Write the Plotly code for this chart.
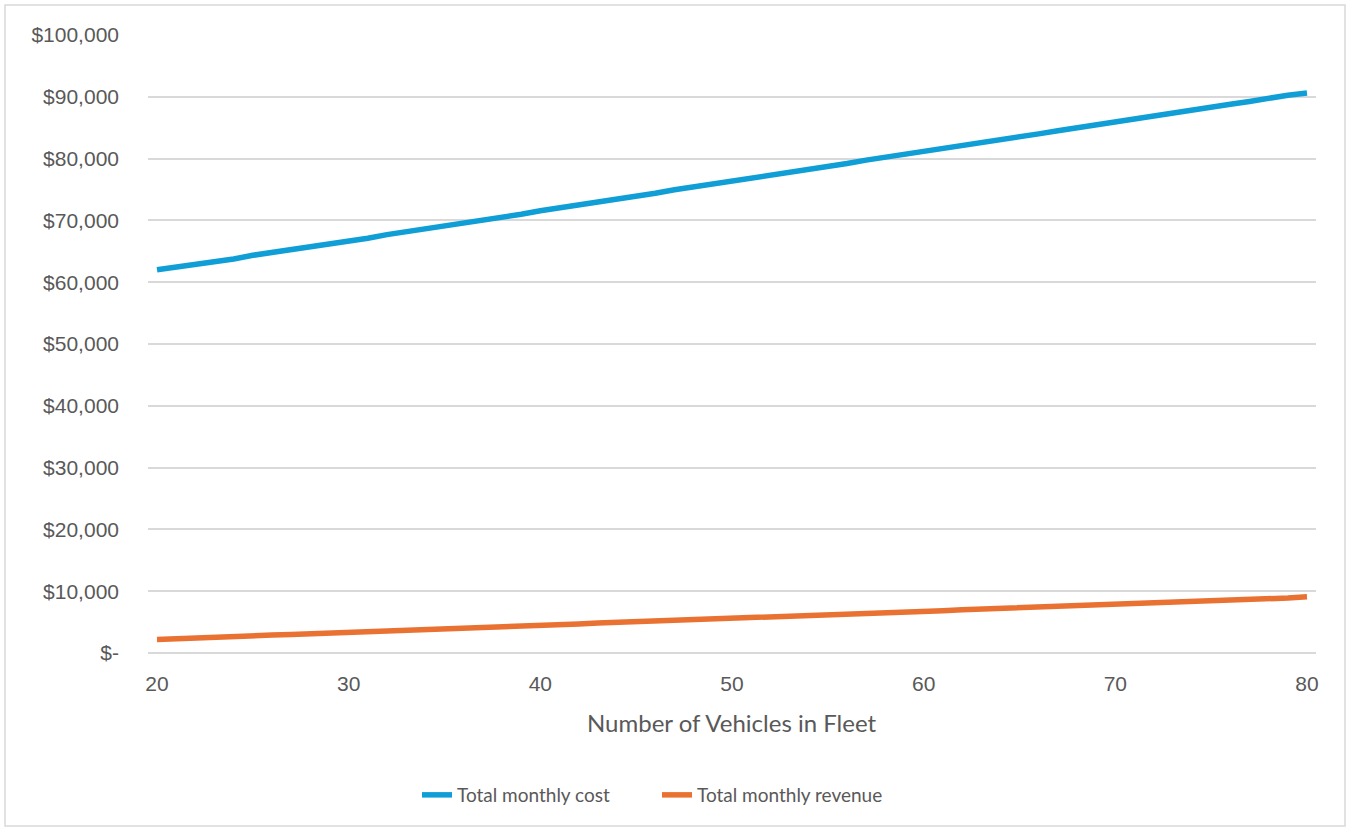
import plotly.graph_objects as go

# Fleet size (number of vehicles)
vehicles = list(range(20, 81))

# Total monthly cost ($) for each fleet size
total_monthly_cost = [
    62000, 62400, 62950, 63350, 63750, 64350, 64800, 65200, 65650, 66250,
    66700, 67100, 67700, 68150, 68600, 69050, 69650, 70100, 70550, 71000,
    71550, 72000, 72450, 73000, 73450, 73900, 74400, 74950, 75400, 75850,
    76400, 76850, 77300, 77800, 78300, 78750, 79200, 79750, 80200, 80650,
    81150, 81650, 82100, 82550, 83100, 83550, 84000, 84500, 85000, 85450,
    85900, 86450, 86900, 87350, 87850, 88350, 88800, 89250, 89800, 90250,
    90600,
]

# Total monthly revenue ($) for each fleet size
total_monthly_revenue = [
    2200, 2350, 2400, 2550, 2650, 2800, 2900, 3000, 3100, 3250,
    3350, 3450, 3600, 3700, 3800, 3900, 4050, 4150, 4250, 4350,
    4500, 4600, 4700, 4850, 4950, 5050, 5150, 5300, 5400, 5500,
    5600, 5750, 5850, 5950, 6100, 6200, 6300, 6400, 6550, 6650,
    6750, 6850, 7000, 7100, 7200, 7300, 7450, 7550, 7650, 7800,
    7900, 8000, 8100, 8250, 8350, 8450, 8550, 8700, 8800, 8900,
    9100,
]

x_ticks = [20, 30, 40, 50, 60, 70, 80]
y_ticks = [0, 10000, 20000, 30000, 40000, 50000, 60000, 70000, 80000, 90000, 100000]
y_tick_text = ["$-" if v == 0 else f"${v:,}" for v in y_ticks]

W, H = 1350, 831
L, R, T, B = 148, 34, 35, 178
pw, ph = W - L - R, H - T - B

TICK_FONT = dict(family="Liberation Sans, Arial, sans-serif", size=21, color="#595959")
TITLE_FONT = dict(family="Lato, sans-serif", size=24, color="#595959")
LEGEND_FONT = dict(family="Lato, sans-serif", size=19, color="#595959")
GRID = "#d9d9d9"

fig = go.Figure()
fig.add_trace(go.Scatter(
    x=vehicles, y=total_monthly_cost, mode="lines", name="Total monthly cost",
    line=dict(color="#0F9ED5", width=5.5),
))
fig.add_trace(go.Scatter(
    x=vehicles, y=total_monthly_revenue, mode="lines", name="Total monthly revenue",
    line=dict(color="#E97132", width=5.5),
))


def px_x(p):
    return (p - L) / pw


def px_y(p):
    return (H - B - p) / ph


# outer chart border
fig.add_shape(type="rect", xref="paper", yref="paper",
              x0=px_x(5), x1=px_x(1345), y0=px_y(826), y1=px_y(5),
              line=dict(color=GRID, width=1.5), fillcolor="rgba(0,0,0,0)", layer="below")

fig.add_annotation(text="Number of Vehicles in Fleet", xref="paper", yref="paper",
                   x=px_x(731), y=px_y(722), xanchor="center", yanchor="middle",
                   showarrow=False, font=TITLE_FONT)

fig.update_layout(
    width=W, height=H,
    margin=dict(l=L, r=R, t=T, b=B, pad=0),
    paper_bgcolor="white", plot_bgcolor="white",
    showlegend=True,
    legend=dict(orientation="h", x=px_x(657), y=px_y(795), xanchor="center", yanchor="middle",
                font=LEGEND_FONT, bgcolor="rgba(0,0,0,0)", itemwidth=30,
                entrywidth=195, entrywidthmode="pixels"),
    xaxis=dict(range=[19.53, 80.47], tickvals=x_ticks, showgrid=False, zeroline=False,
               showline=False, ticks="", tickfont=TICK_FONT, ticklabelstandoff=16),
    yaxis=dict(range=[0, 100000], tickvals=y_ticks, ticktext=y_tick_text,
               showgrid=True, gridcolor=GRID, gridwidth=1.5,
               zeroline=True, zerolinecolor=GRID, zerolinewidth=1.5,
               showline=False, ticks="", tickfont=TICK_FONT, ticklabelstandoff=28),
)

fig.write_html("out.html")
